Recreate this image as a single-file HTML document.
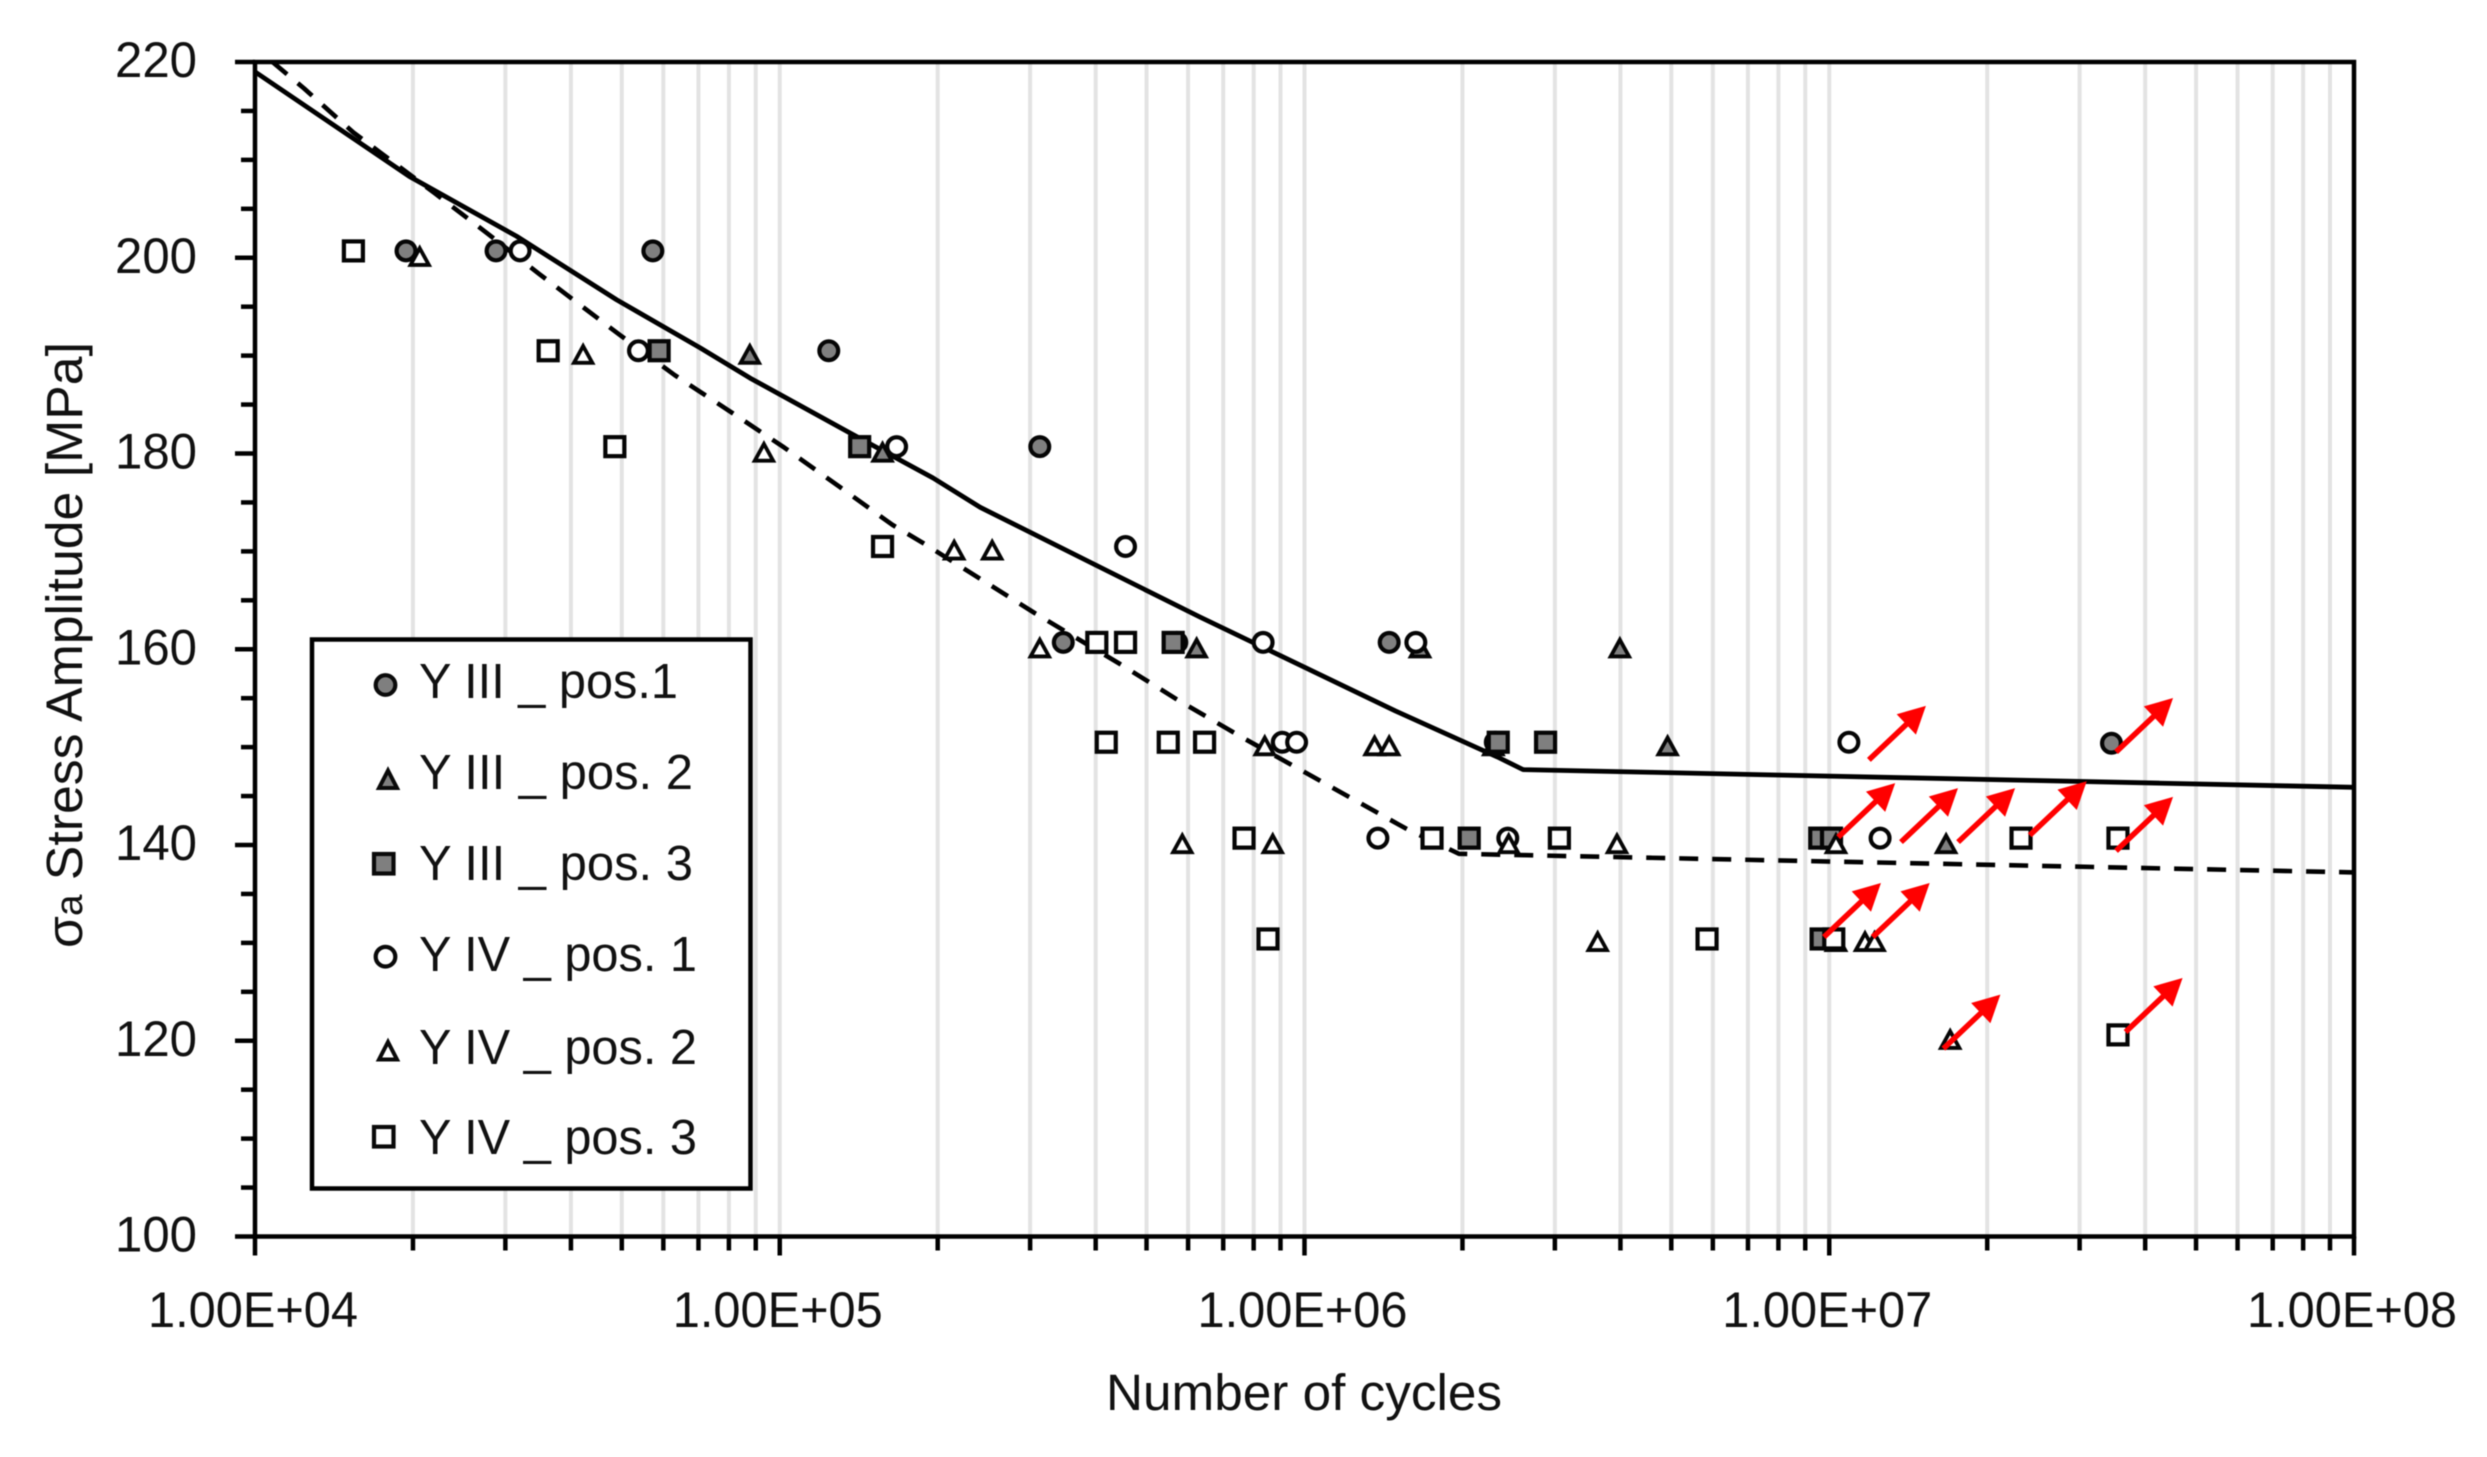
<!DOCTYPE html>
<html lang="en">
<head>
<meta charset="utf-8">
<title>Stress amplitude vs number of cycles</title>
<style>
html,body{margin:0;padding:0;background:#fff;}
svg{display:block;filter:blur(0.6px);}
text{font-family:"Liberation Sans",sans-serif;fill:#111;}
</style>
</head>
<body>
<svg id="chart" xmlns="http://www.w3.org/2000/svg" width="2487" height="1457" viewBox="0 0 2487 1457">
  <rect x="0" y="0" width="2487" height="1457" fill="#ffffff"/>
  <g id="grid"></g>
  <g id="curves"></g>
  <g id="marks"></g>
  <g id="axes"></g>
  <g id="arrows"></g>

  <text x="1106" y="1410" font-size="51" textLength="396" lengthAdjust="spacingAndGlyphs">Number of cycles</text>
  <text transform="translate(82,948) rotate(-90)" font-size="51" textLength="606" lengthAdjust="spacingAndGlyphs">σ<tspan font-size="38">a</tspan> Stress Amplitude [MPa]</text>

  <g>
    <rect x="312" y="639.5" width="438.5" height="549" fill="#ffffff" stroke="#000000" stroke-width="4.5"/>
    <g>
      <circle cx="385.5" cy="685" r="9.8" fill="#7f7f7f" stroke="#0a0a0a" stroke-width="4.2"/>
      <text x="419" y="698" font-size="49" textLength="259" lengthAdjust="spacingAndGlyphs">Y III _ pos.1</text>
    </g>
    <g>
      <path d="M388 770.5 L397 788 L379 788 Z" fill="#7f7f7f" stroke="#0a0a0a" stroke-width="4"/>
      <text x="419" y="789" font-size="49" textLength="274" lengthAdjust="spacingAndGlyphs">Y III _ pos. 2</text>
    </g>
    <g>
      <rect x="374" y="854" width="19.5" height="19.5" fill="#7f7f7f" stroke="#0a0a0a" stroke-width="4.2"/>
      <text x="419" y="880" font-size="49" textLength="274" lengthAdjust="spacingAndGlyphs">Y III _ pos. 3</text>
    </g>
    <g>
      <circle cx="385.5" cy="956.7" r="9.8" fill="#ffffff" stroke="#0a0a0a" stroke-width="4.2"/>
      <text x="419" y="971" font-size="49" textLength="278" lengthAdjust="spacingAndGlyphs">Y IV _ pos. 1</text>
    </g>
    <g>
      <path d="M388 1042 L397 1059.5 L379 1059.5 Z" fill="#ffffff" stroke="#0a0a0a" stroke-width="4"/>
      <text x="419" y="1064" font-size="49" textLength="278" lengthAdjust="spacingAndGlyphs">Y IV _ pos. 2</text>
    </g>
    <g>
      <rect x="374" y="1127" width="19.5" height="19.5" fill="#ffffff" stroke="#0a0a0a" stroke-width="4.2"/>
      <text x="419" y="1154" font-size="49" textLength="278" lengthAdjust="spacingAndGlyphs">Y IV _ pos. 3</text>
    </g>
  </g>
</svg>
<script>
// ---- chart data ----
var xTickLabels = ['1.00E+04', '1.00E+05', '1.00E+06', '1.00E+07', '1.00E+08'];
var xTickValues = [1e4, 1e5, 1e6, 1e7, 1e8];
var yTickValues = [100, 120, 140, 160, 180, 200, 220];

var solidCycles = [1e4, 1.97e4, 3.15e4, 4.89e4, 7.05e4, 8.78e4, 1.36e5, 1.96e5, 2.41e5, 4.07e5, 6.32e5, 1.49e6, 2.33e6, 2.61e6, 1e8];
var solidStress = [219, 208.3, 202.2, 195.7, 190.8, 187.7, 182.1, 177.5, 174.5, 168.4, 163.3, 153.7, 149, 147.7, 145.9];

var dashedCycles = [1.08e4, 1.24e4, 1.54e4, 2.2e4, 2.77e4, 3.49e4, 4.96e4, 6.31e4, 8.04e4, 1.02e5, 1.3e5, 1.64e5, 1.87e5, 2.41e5, 3.06e5, 4.48e5, 5.74e5, 7.6e5, 1.57e6, 1.97e6, 1e8];
var dashedStress = [220, 217.3, 212.8, 206.6, 202.5, 198.3, 192.1, 188, 184.3, 180.6, 176.6, 172.7, 170.9, 167.2, 163.7, 158.4, 154.8, 151, 141.6, 139.1, 137.2];

var y3p1Cycles = [1.94e4, 2.88e4, 5.73e4, 1.24e5, 3.13e5, 3.47e5, 5.71e5, 1.45e6, 2.31e6, 3.45e7, 9.93e6, 9.79e6];
var y3p1Stress = [200.7, 200.7, 200.7, 190.5, 180.7, 160.7, 160.7, 160.7, 150.5, 150.4, 140.7, 130.4];

var y3p2Cycles = [8.77e4, 1.57e5, 6.23e5, 1.66e6, 3.99e6, 2.29e6, 4.92e6, 1.67e7, 1.03e7];
var y3p2Stress = [190, 180, 160, 160, 160, 150, 150, 140, 130];

var y3p3Cycles = [5.89e4, 1.42e5, 5.62e5, 2.34e6, 2.88e6, 2.06e6, 9.59e6, 9.65e6, 1.01e7];
var y3p3Stress = [190.5, 180.7, 160.7, 150.5, 150.5, 140.7, 140.7, 130.4, 140.7];

var y4p1Cycles = [3.2e4, 5.38e4, 1.67e5, 4.56e5, 8.34e5, 1.63e6, 9.07e5, 9.66e5, 1.09e7, 1.38e6, 2.44e6, 1.25e7];
var y4p1Stress = [200.7, 190.5, 180.7, 170.5, 160.7, 160.7, 150.5, 150.5, 150.5, 140.7, 140.7, 140.7];

var y4p2Cycles = [2.06e4, 4.22e4, 9.33e4, 2.15e5, 2.54e5, 3.13e5, 8.4e5, 1.36e6, 1.45e6, 5.85e5, 8.7e5, 2.45e6, 3.94e6, 1.03e7, 3.62e6, 1.17e7, 1.22e7, 1.7e7];
var y4p2Stress = [200, 190, 180, 170, 170, 160, 150, 150, 150, 140, 140, 140, 140, 140, 130, 130, 130, 120];

var y4p3Cycles = [1.54e4, 3.62e4, 4.85e4, 1.57e5, 4.02e5, 4.56e5, 4.19e5, 5.5e5, 6.45e5, 7.67e5, 1.75e6, 3.06e6, 2.32e7, 3.55e7, 8.52e5, 5.85e6, 1.02e7, 3.55e7];
var y4p3Stress = [200.7, 190.5, 180.7, 170.5, 160.7, 160.7, 150.5, 150.5, 150.5, 140.7, 140.7, 140.7, 140.7, 140.7, 130.4, 130.4, 130.4, 120.6];

var runOutCycles = [1.19e7, 3.52e7, 1.04e7, 1.37e7, 1.76e7, 2.41e7, 3.52e7, 9.77e6, 1.21e7, 1.65e7, 3.67e7];
var runOutStress = [148.7, 149.5, 140.8, 140.3, 140.3, 141, 139.4, 130.6, 130.6, 119.2, 120.9];

// ---- axis functions ----
var NS = 'http://www.w3.org/2000/svg';
var plotLeft = 255, plotRight = 2354, plotTop = 62, plotBottom = 1236.5;
var xMin = 1e4, xMax = 1e8, yMin = 100, yMax = 220;
function xScale(n) {
  return plotLeft + (Math.log10(n) - Math.log10(xMin)) / (Math.log10(xMax) - Math.log10(xMin)) * (plotRight - plotLeft);
}
function yScale(s) {
  return plotBottom - (s - yMin) / (yMax - yMin) * (plotBottom - plotTop);
}
function make(tag, parent, attrs) {
  var el = document.createElementNS(NS, tag);
  for (var k in attrs) { el.setAttribute(k, attrs[k]); }
  parent.appendChild(el);
  return el;
}

var gridG = document.getElementById('grid');
var curvesG = document.getElementById('curves');
var marksG = document.getElementById('marks');
var axesG = document.getElementById('axes');
var arrowsG = document.getElementById('arrows');

// gridlines + x ticks
for (var dec = 4; dec < 8; dec++) {
  for (var m = 1; m <= 10; m++) {
    if (m === 1 && dec > 4) continue;
    var nv = m * Math.pow(10, dec);
    var gx = xScale(nv);
    if (nv > xMin && nv < xMax) {
      var grid = make('line', gridG, {x1: gx, x2: gx, y1: plotTop, y2: plotBottom, stroke: '#e3e3e3', 'stroke-width': 4});
      
      
    }
    var isMajor = (m === 1 || m === 10);
    var xt = make('line', axesG, {x1: gx, x2: gx, y1: plotBottom, y2: plotBottom + (isMajor ? 19 : 14), stroke: '#000', 'stroke-width': 4.5});
    
    
  }
}

// y ticks
for (var s = yMin; s <= yMax; s += 5) {
  var major = (s % 20 === 0);
  var yt = make('line', axesG, {x1: plotLeft - (major ? 20 : 14), x2: plotLeft, y1: yScale(s), y2: yScale(s), stroke: '#000', 'stroke-width': 4.5});
  
  
}

// axis frame
var frame = make('rect', axesG, {x: plotLeft, y: plotTop, width: plotRight - plotLeft, height: plotBottom - plotTop, fill: 'none', stroke: '#000', 'stroke-width': 4.5});



// tick labels
xTickValues.forEach(function (v, i) {
  var t = make('text', axesG, {x: xScale(v) - 107, y: 1327, 'font-size': 50, textLength: 210, lengthAdjust: 'spacingAndGlyphs'});
  
  
  t.textContent = xTickLabels[i];
});
yTickValues.forEach(function (v) {
  var t = make('text', axesG, {x: 115, y: yScale(v) + 15, 'font-size': 50, textLength: 82, lengthAdjust: 'spacingAndGlyphs'});
  
  
  t.textContent = String(v);
});

// fit curves
function pointsOf(xs, ys) {
  return xs.map(function (n, i) { return xScale(n).toFixed(1) + ',' + yScale(ys[i]).toFixed(1); }).join(' ');
}
var solidLine = make('polyline', curvesG, {points: pointsOf(solidCycles, solidStress), fill: 'none', stroke: '#000', 'stroke-width': 4.8, 'stroke-linejoin': 'round'});


var dashedLine = make('polyline', curvesG, {points: pointsOf(dashedCycles, dashedStress), fill: 'none', stroke: '#000', 'stroke-width': 4.6, 'stroke-dasharray': '19 14', 'stroke-linejoin': 'round'});



// markers
var GRAY = '#7f7f7f', WHITE = '#ffffff', INK = '#050505', MARK_W = 4.2;
function circleMark(n, st, fill) {
  return make('circle', marksG, {cx: xScale(n), cy: yScale(st), r: 9.4, fill: fill, stroke: INK, 'stroke-width': MARK_W});
}
function squareMark(n, st, fill) {
  return make('rect', marksG, {x: xScale(n) - 9.5, y: yScale(st) - 9.5, width: 19, height: 19, fill: fill, stroke: INK, 'stroke-width': MARK_W});
}
function triangleMark(n, st, fill) {
  var cx = xScale(n), cy = yScale(st);
  return make('path', marksG, {d: 'M' + cx + ' ' + (cy - 9.5) + ' L' + (cx + 9.2) + ' ' + (cy + 7.2) + ' L' + (cx - 9.2) + ' ' + (cy + 7.2) + ' Z', fill: fill, stroke: INK, 'stroke-width': 3.8, 'stroke-linejoin': 'miter'});
}
y3p1Cycles.forEach(function (n, i) {
  var el = circleMark(n, y3p1Stress[i], GRAY);
  
  
});
y3p2Cycles.forEach(function (n, i) {
  var el = triangleMark(n, y3p2Stress[i], GRAY);
  
  
});
y3p3Cycles.forEach(function (n, i) {
  var el = squareMark(n, y3p3Stress[i], GRAY);
  
  
});
y4p1Cycles.forEach(function (n, i) {
  var el = circleMark(n, y4p1Stress[i], WHITE);
  
  
});
y4p2Cycles.forEach(function (n, i) {
  var el = triangleMark(n, y4p2Stress[i], WHITE);
  
  
});
y4p3Cycles.forEach(function (n, i) {
  var el = squareMark(n, y4p3Stress[i], WHITE);
  
  
});

// run-out arrows
var arrowDx = 57, arrowDy = -54;
runOutCycles.forEach(function (n, i) {
  var x0 = xScale(n), y0 = yScale(runOutStress[i]);
  var x1 = x0 + arrowDx, y1 = y0 + arrowDy;
  var len = Math.sqrt(arrowDx * arrowDx + arrowDy * arrowDy);
  var ux = arrowDx / len, uy = arrowDy / len;
  var headLen = 27, headHalf = 14;
  var bx = x1 - ux * headLen, by = y1 - uy * headLen;
  var g = make('g', arrowsG, {});
  
  
  make('line', g, {x1: x0, y1: y0, x2: bx + ux * 3, y2: by + uy * 3, stroke: '#ff0000', 'stroke-width': 5.5});
  make('path', g, {d: 'M' + x1 + ' ' + y1 + ' L' + (bx - uy * headHalf) + ' ' + (by + ux * headHalf) + ' L' + (bx + uy * headHalf) + ' ' + (by - ux * headHalf) + ' Z', fill: '#ff0000'});
});
</script>
</body>
</html>
